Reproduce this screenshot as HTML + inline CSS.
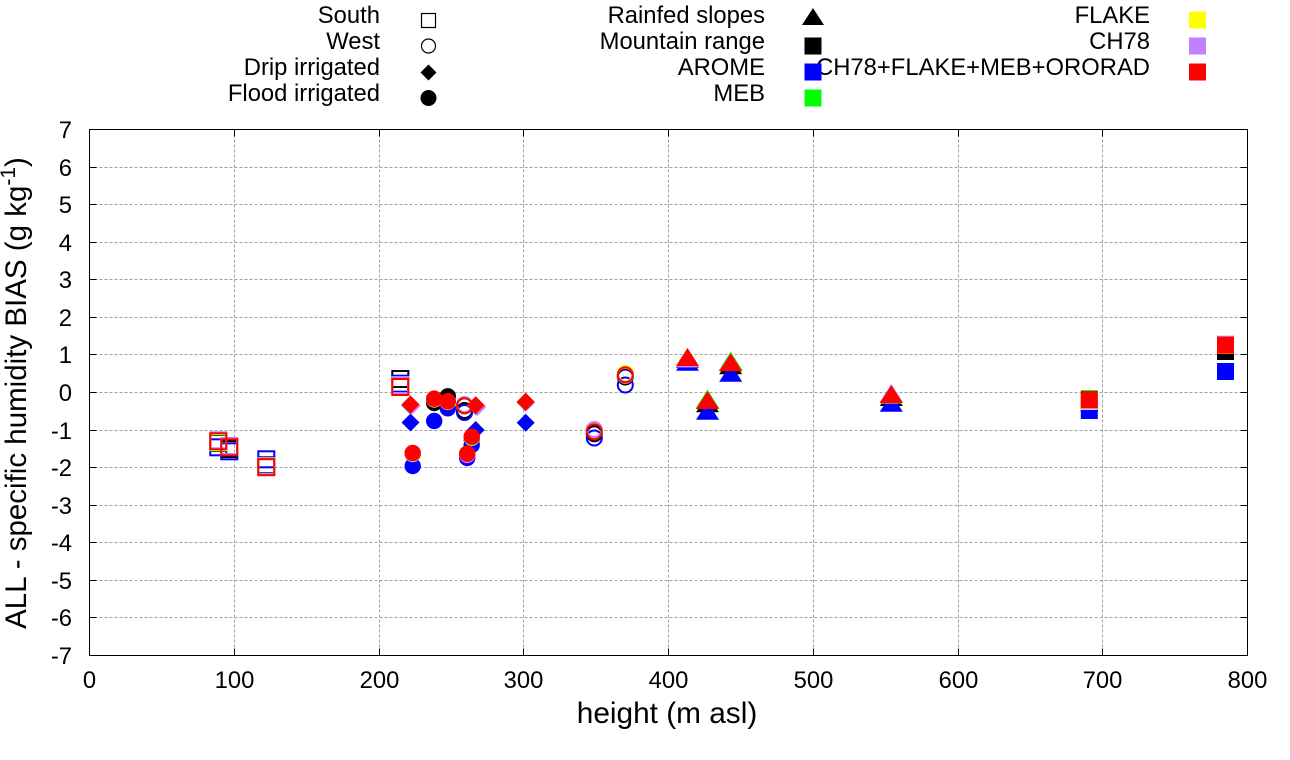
<!DOCTYPE html>
<html>
<head>
<meta charset="utf-8">
<style>
html,body{margin:0;padding:0;background:#fff;}
svg{display:block;}
text{font-family:"Liberation Sans",Arial,sans-serif;fill:#000;}
</style>
</head>
<body>
<svg width="1290" height="760" viewBox="0 0 1290 760" xmlns="http://www.w3.org/2000/svg">
<rect width="1290" height="760" fill="#fff"/>

<!-- grid -->
<g stroke="#a0a0a0" stroke-width="1" stroke-dasharray="3,2" fill="none">
  <line x1="234.5" y1="129.5" x2="234.5" y2="655.5"/>
  <line x1="379.5" y1="129.5" x2="379.5" y2="655.5"/>
  <line x1="523.5" y1="129.5" x2="523.5" y2="655.5"/>
  <line x1="668.5" y1="129.5" x2="668.5" y2="655.5"/>
  <line x1="813.5" y1="129.5" x2="813.5" y2="655.5"/>
  <line x1="958.5" y1="129.5" x2="958.5" y2="655.5"/>
  <line x1="1102.5" y1="129.5" x2="1102.5" y2="655.5"/>
  <line x1="89.5" y1="167.5" x2="1247.5" y2="167.5"/>
  <line x1="89.5" y1="204.5" x2="1247.5" y2="204.5"/>
  <line x1="89.5" y1="242.5" x2="1247.5" y2="242.5"/>
  <line x1="89.5" y1="279.5" x2="1247.5" y2="279.5"/>
  <line x1="89.5" y1="317.5" x2="1247.5" y2="317.5"/>
  <line x1="89.5" y1="354.5" x2="1247.5" y2="354.5"/>
  <line x1="89.5" y1="392.5" x2="1247.5" y2="392.5"/>
  <line x1="89.5" y1="430.5" x2="1247.5" y2="430.5"/>
  <line x1="89.5" y1="467.5" x2="1247.5" y2="467.5"/>
  <line x1="89.5" y1="505.5" x2="1247.5" y2="505.5"/>
  <line x1="89.5" y1="542.5" x2="1247.5" y2="542.5"/>
  <line x1="89.5" y1="580.5" x2="1247.5" y2="580.5"/>
  <line x1="89.5" y1="617.5" x2="1247.5" y2="617.5"/>
</g>

<!-- ticks -->
<g stroke="#000" stroke-width="1">
  <path d="M89.5 167.5h7M89.5 204.5h7M89.5 242.5h7M89.5 279.5h7M89.5 317.5h7M89.5 354.5h7M89.5 392.5h7M89.5 430.5h7M89.5 467.5h7M89.5 505.5h7M89.5 542.5h7M89.5 580.5h7M89.5 617.5h7"/>
  <path d="M1247.5 167.5h-7M1247.5 204.5h-7M1247.5 242.5h-7M1247.5 279.5h-7M1247.5 317.5h-7M1247.5 354.5h-7M1247.5 392.5h-7M1247.5 430.5h-7M1247.5 467.5h-7M1247.5 505.5h-7M1247.5 542.5h-7M1247.5 580.5h-7M1247.5 617.5h-7"/>
  <path d="M234.5 655.5v-7M379.5 655.5v-7M523.5 655.5v-7M668.5 655.5v-7M813.5 655.5v-7M958.5 655.5v-7M1102.5 655.5v-7"/>
  <path d="M234.5 129.5v7M379.5 129.5v7M523.5 129.5v7M668.5 129.5v7M813.5 129.5v7M958.5 129.5v7M1102.5 129.5v7"/>
</g>

<!-- border -->
<rect x="89.5" y="129.5" width="1158" height="526" fill="none" stroke="#000" stroke-width="1"/>

<!-- y tick labels -->
<g font-size="23.8" text-anchor="end">
  <text x="72" y="138">7</text>
  <text x="72" y="176">6</text>
  <text x="72" y="213">5</text>
  <text x="72" y="251">4</text>
  <text x="72" y="288">3</text>
  <text x="72" y="326">2</text>
  <text x="72" y="363">1</text>
  <text x="72" y="401">0</text>
  <text x="72" y="439">-1</text>
  <text x="72" y="476">-2</text>
  <text x="72" y="514">-3</text>
  <text x="72" y="551">-4</text>
  <text x="72" y="589">-5</text>
  <text x="72" y="626">-6</text>
  <text x="72" y="664">-7</text>
</g>

<!-- x tick labels -->
<g font-size="23.8" text-anchor="middle">
  <text x="89.5" y="688">0</text>
  <text x="234.5" y="688">100</text>
  <text x="379.5" y="688">200</text>
  <text x="523.5" y="688">300</text>
  <text x="668.5" y="688">400</text>
  <text x="813.5" y="688">500</text>
  <text x="958.5" y="688">600</text>
  <text x="1102.5" y="688">700</text>
  <text x="1247.5" y="688">800</text>
</g>

<!-- axis labels -->
<text x="667" y="723" font-size="29.8" text-anchor="middle">height (m asl)</text>
<text transform="translate(26,393) rotate(-90)" font-size="29.5" text-anchor="middle">ALL - specific humidity BIAS (g kg<tspan font-size="21" dy="-11">-1</tspan><tspan dy="11">)</tspan></text>

<!-- legend -->
<g font-size="23.8" text-anchor="end">
  <text x="380" y="23">South</text>
  <text x="380" y="49">West</text>
  <text x="380" y="75">Drip irrigated</text>
  <text x="380" y="101">Flood irrigated</text>
  <text x="765" y="23">Rainfed slopes</text>
  <text x="765" y="49">Mountain range</text>
  <text x="765" y="75">AROME</text>
  <text x="765" y="101">MEB</text>
  <text x="1150" y="23">FLAKE</text>
  <text x="1150" y="49">CH78</text>
  <text x="1150" y="75">CH78+FLAKE+MEB+ORORAD</text>
</g>
<rect x="421.5" y="13.5" width="14" height="14" fill="none" stroke="#000" stroke-width="1.2"/>
<circle cx="428.5" cy="46" r="7" fill="none" stroke="#000" stroke-width="1.2"/>
<polygon points="428.5,64.5 436.5,72.5 428.5,80.5 420.5,72.5" fill="#000"/>
<circle cx="428.5" cy="98" r="8" fill="#000"/>
<polygon points="813,8 824,25 802,25" fill="#000"/>
<rect x="804.5" y="37.5" width="17" height="17" fill="#000"/>
<rect x="804.5" y="63.5" width="17" height="17" fill="#0000ff"/>
<rect x="804.5" y="89.5" width="17" height="17" fill="#00ff00"/>
<rect x="1189" y="11.5" width="17" height="17" fill="#ffff00"/>
<rect x="1189" y="37.5" width="17" height="17" fill="#c080ff"/>
<rect x="1189" y="63.5" width="17" height="17" fill="#ff0000"/>

<!-- data: drawn model by model -->
<!-- BLACK -->
<g stroke="#000" fill="none" stroke-width="2">
  <rect x="210.3" y="435" width="16" height="16"/>
  <rect x="221.3" y="441" width="16" height="16"/>
  <rect x="258.3" y="457.3" width="16" height="16"/>
  <rect x="392.3" y="371" width="16" height="16"/>
  <circle cx="464.5" cy="410.5" r="7.5"/>
  <circle cx="594.3" cy="433.8" r="7.5"/>
  <circle cx="625.3" cy="377" r="7.5"/>
</g>
<g fill="#000">
  <polygon points="410.5,396.5 419.5,405.5 410.5,414.5 401.5,405.5"/>
  <polygon points="475.7,397 484.7,406 475.7,415 466.7,406"/>
  <polygon points="525.7,393.5 534.7,402.5 525.7,411.5 516.7,402.5"/>
  <circle cx="412.7" cy="454" r="8.2"/>
  <circle cx="434.2" cy="403" r="8.2"/>
  <circle cx="447.8" cy="396.3" r="8.2"/>
  <circle cx="471.7" cy="439" r="8.2"/>
  <circle cx="467.2" cy="455" r="8.2"/>
  <polygon points="687.5,350 699,368 676,368"/>
  <polygon points="730.7,356.3 742.2,374.3 719.2,374.3"/>
  <polygon points="707.5,394.3 719,412.3 696,412.3"/>
  <polygon points="891.3,388 902.8,406 879.8,406"/>
  <rect x="1080.8" y="395" width="17" height="17"/>
  <rect x="1217" y="343" width="17" height="17"/>
</g>
<!-- BLUE -->
<g stroke="#0000ff" fill="none" stroke-width="2">
  <rect x="210.3" y="439.3" width="16" height="16"/>
  <rect x="221.3" y="443.3" width="16" height="16"/>
  <rect x="258.3" y="451.3" width="16" height="16"/>
  <rect x="392.3" y="375.7" width="16" height="16"/>
  <circle cx="464.5" cy="412.5" r="7.5"/>
  <circle cx="594.3" cy="438" r="7.5"/>
  <circle cx="625.3" cy="385" r="7.5"/>
</g>
<g fill="#0000ff">
  <polygon points="410.5,413.5 419.5,422.5 410.5,431.5 401.5,422.5"/>
  <polygon points="475.7,421 484.7,430 475.7,439 466.7,430"/>
  <polygon points="525.7,413.7 534.7,422.7 525.7,431.7 516.7,422.7"/>
  <circle cx="412.7" cy="466" r="8.2"/>
  <circle cx="434.2" cy="421" r="8.2"/>
  <circle cx="447.8" cy="408.3" r="8.2"/>
  <circle cx="471.7" cy="445" r="8.2"/>
  <circle cx="467.2" cy="458" r="8.2"/>
  <polygon points="687.5,352.7 699,370.7 676,370.7"/>
  <polygon points="730.7,363.7 742.2,381.7 719.2,381.7"/>
  <polygon points="707.5,401.7 719,419.7 696,419.7"/>
  <polygon points="891.3,393.7 902.8,411.7 879.8,411.7"/>
  <rect x="1080.8" y="402" width="17" height="17"/>
  <rect x="1217" y="363" width="17" height="17"/>
</g>
<!-- GREEN -->
<g stroke="#00ff00" fill="none" stroke-width="2">
  <rect x="210.3" y="434.5" width="16" height="16"/>
  <rect x="221.3" y="439" width="16" height="16"/>
  <rect x="258.3" y="458.5" width="16" height="16"/>
  <rect x="392.3" y="378" width="16" height="16"/>
  <circle cx="464.5" cy="406" r="7.5"/>
  <circle cx="594.3" cy="431" r="7.5"/>
  <circle cx="625.3" cy="375" r="7.5"/>
</g>
<g fill="#00ff00">
  <polygon points="410.5,395.5 419.5,404.5 410.5,413.5 401.5,404.5"/>
  <polygon points="475.7,396.5 484.7,405.5 475.7,414.5 466.7,405.5"/>
  <polygon points="525.7,393 534.7,402 525.7,411 516.7,402"/>
  <circle cx="412.7" cy="453.5" r="8.2"/>
  <circle cx="434.2" cy="399" r="8.2"/>
  <circle cx="447.8" cy="401.5" r="8.2"/>
  <circle cx="471.7" cy="438" r="8.2"/>
  <circle cx="467.2" cy="454" r="8.2"/>
  <polygon points="687.5,348 699,366 676,366"/>
  <polygon points="730.7,351.5 742.7,370.5 718.7,370.5"/>
  <polygon points="707.5,389.5 719.5,408.5 695.5,408.5"/>
  <polygon points="891.3,384.5 902.8,402.5 879.8,402.5"/>
  <rect x="1080.8" y="390" width="17" height="17"/>
  <rect x="1217" y="337" width="17" height="17"/>
</g>
<!-- YELLOW -->
<g stroke="#ffff00" fill="none" stroke-width="2">
  <rect x="210.3" y="434" width="16" height="16"/>
  <rect x="221.3" y="439" width="16" height="16"/>
  <rect x="258.3" y="458.5" width="16" height="16"/>
  <rect x="392.3" y="378" width="16" height="16"/>
  <circle cx="464.5" cy="405.5" r="7.5"/>
  <circle cx="594.3" cy="431" r="7.5"/>
  <circle cx="625.3" cy="373.5" r="7.5"/>
</g>
<g fill="#ffff00">
  <polygon points="410.5,395.5 419.5,404.5 410.5,413.5 401.5,404.5"/>
  <polygon points="475.7,396.5 484.7,405.5 475.7,414.5 466.7,405.5"/>
  <polygon points="525.7,393 534.7,402 525.7,411 516.7,402"/>
  <circle cx="412.7" cy="454" r="8.2"/>
  <circle cx="434.2" cy="399.5" r="8.2"/>
  <circle cx="447.8" cy="402" r="8.2"/>
  <circle cx="471.7" cy="437.5" r="8.2"/>
  <circle cx="467.2" cy="454.5" r="8.2"/>
  <polygon points="687.5,348 699,366 676,366"/>
  <polygon points="730.7,353 742.2,371 719.2,371"/>
  <polygon points="707.5,391 719,409 696,409"/>
  <polygon points="891.3,385.5 902.8,403.5 879.8,403.5"/>
  <rect x="1080.8" y="393" width="17" height="17"/>
  <rect x="1217" y="337" width="17" height="17"/>
</g>
<!-- PURPLE -->
<g stroke="#c080ff" fill="none" stroke-width="2">
  <rect x="210.3" y="432.3" width="16" height="16"/>
  <rect x="221.3" y="438" width="16" height="16"/>
  <rect x="258.3" y="458" width="16" height="16"/>
  <rect x="392.3" y="377" width="16" height="16"/>
  <circle cx="464.5" cy="404.5" r="7.5"/>
  <circle cx="594.3" cy="429.5" r="7.5"/>
  <circle cx="625.3" cy="375.5" r="7.5"/>
</g>
<g fill="#c080ff">
  <polygon points="411.5,397 420.5,406 411.5,415 402.5,406"/>
  <polygon points="477.2,398 486.2,407 477.2,416 468.2,407"/>
  <polygon points="526.2,393.5 535.2,402.5 526.2,411.5 517.2,402.5"/>
  <circle cx="412.7" cy="453.5" r="8.2"/>
  <circle cx="434.2" cy="399" r="8.2"/>
  <circle cx="447.8" cy="401.5" r="8.2"/>
  <circle cx="471.7" cy="437" r="8.2"/>
  <circle cx="467.2" cy="455" r="8.2"/>
  <polygon points="687.5,349.5 699,367.5 676,367.5"/>
  <polygon points="730.7,353 742.2,371 719.2,371"/>
  <polygon points="707.5,391 719,409 696,409"/>
  <polygon points="891.3,384 902.8,402 879.8,402"/>
  <rect x="1080.8" y="392.3" width="17" height="17"/>
  <rect x="1217" y="335.7" width="17" height="17"/>
</g>
<!-- RED -->
<g stroke="#ff0000" fill="none" stroke-width="2">
  <rect x="210.3" y="433.3" width="16" height="16"/>
  <rect x="221.3" y="439.3" width="16" height="16"/>
  <rect x="258.3" y="459.2" width="16" height="16"/>
  <rect x="392.3" y="379" width="16" height="16"/>
  <circle cx="464.5" cy="405.8" r="7.5"/>
  <circle cx="594.3" cy="431.7" r="7.5"/>
  <circle cx="625.3" cy="374.7" r="7.5"/>
</g>
<g fill="#ff0000">
  <polygon points="410.5,395.5 419.5,404.5 410.5,413.5 401.5,404.5"/>
  <polygon points="475.7,396.3 484.7,405.3 475.7,414.3 466.7,405.3"/>
  <polygon points="525.7,392.7 534.7,401.7 525.7,410.7 516.7,401.7"/>
  <circle cx="412.7" cy="453" r="8.2"/>
  <circle cx="434.2" cy="398.7" r="8.2"/>
  <circle cx="447.8" cy="401.3" r="8.2"/>
  <circle cx="471.7" cy="436.7" r="8.2"/>
  <circle cx="467.2" cy="453.7" r="8.2"/>
  <polygon points="687.5,348 699,366 676,366"/>
  <polygon points="730.7,353.3 742.2,371.3 719.2,371.3"/>
  <polygon points="707.5,391 719,409 696,409"/>
  <polygon points="891.3,385 902.8,403 879.8,403"/>
  <rect x="1080.8" y="391" width="17" height="17"/>
  <rect x="1217" y="336.7" width="17" height="17"/>
</g>
</svg>
</body>
</html>
